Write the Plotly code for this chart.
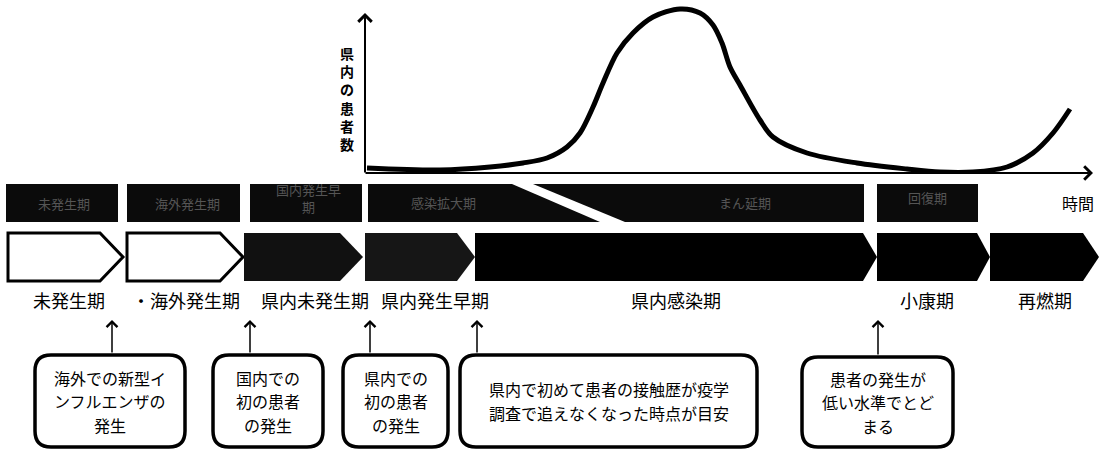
import plotly.graph_objects as go

W, H = 1099, 451
FONT = "Noto Sans CJK JP"

# ---- data: epidemic curve (time units, patient count) ----
time_pts = [0.2, 7.5, 12.5, 15.8, 18.2, 20.2, 21.5, 22.8, 23.8, 25.2, 26.8, 28.8,
            31.5, 33.5, 34.8, 35.7, 36.5, 37.5, 39.5, 40.8, 44.2, 49.2, 54.2,
            57.5, 60.8, 64.2, 66.8, 68.8, 70.5]
patients = [5, 3, 6, 10, 15, 26, 40, 66, 90, 120, 140, 156,
            164, 160, 148, 130, 106, 88, 53, 36, 20, 10, 4,
            1, 1, 6, 20, 40, 64]

# ---- text ----
upper_phases = ["未発生期", "海外発生期", "国内発生早<br>期", "感染拡大期", "まん延期", "回復期"]
lower_phases = ["未発生期", "・海外発生期", "県内未発生期", "県内発生早期", "県内感染期", "小康期", "再燃期"]
callouts = ["海外での新型イ<br>ンフルエンザの<br>発生",
            "国内での<br>初の患者<br>の発生",
            "県内での<br>初の患者<br>の発生",
            "県内で初めて患者の接触歴が疫学<br>調査で追えなくなった時点が目安",
            "患者の発生が<br>低い水準でとど<br>まる"]
y_title = "県内の患者数"
x_title = "時間"

# ---- layout geometry (pixels) ----
chev_x0 = [8, 127, 244, 365, 475, 877, 990]
chev_x1 = [100, 220, 340, 457, 863, 977, 1083]
chev_tip = [123, 243, 363, 475, 877, 990, 1099]
chev_fill = ["white", "white", "#111", "#161616", "black", "black", "black"]
chev_top, chev_bot = 233, 281

up_boxes = [  # polygons
    [(6, 184), (118, 184), (118, 222), (6, 222)],
    [(127, 184), (240, 184), (240, 222), (127, 222)],
    [(250, 184), (362, 184), (362, 222), (250, 222)],
    [(368, 184), (512, 184), (600, 222), (368, 222)],
    [(533, 184), (864, 184), (864, 222), (625, 222)],
    [(877, 184), (978, 184), (978, 222), (877, 222)],
]
up_text_xy = [(64, 203), (187, 203), (308, 198), (443, 202), (745, 202), (927, 197)]
low_text_x = [69, 186, 315, 435, 676, 927, 1045]
low_text_y = 300
call_boxes = [(35, 355, 185, 447), (213, 355, 323, 447), (343, 355, 448, 447),
              (460, 355, 757, 447), (802, 357, 953, 447)]
call_arrow_x = [112, 250, 370, 477, 878]
call_line_gap = 23.5

# plot area of the curve in pixels
px0, px1, py0, py1 = 365, 1093, 173, 13

fig = go.Figure()

# epidemic curve on its own axes
fig.add_trace(go.Scatter(x=time_pts, y=patients, mode="lines",
                         line=dict(color="black", width=5, shape="spline", smoothing=0.9),
                         xaxis="x2", yaxis="y2", hoverinfo="skip", showlegend=False))

shapes = []
annotations = []

def poly(pts):
    return "M " + " L ".join(f"{x},{y}" for x, y in pts) + " Z"

# upper dark boxes
for pts in up_boxes:
    shapes.append(dict(type="path", path=poly(pts), xref="x", yref="y",
                       fillcolor="#0b0b0b", line=dict(width=0), layer="below"))
for (tx, ty), t in zip(up_text_xy, upper_phases):
    annotations.append(dict(x=tx, y=ty, xref="x", yref="y", text=t, showarrow=False,
                            font=dict(family=FONT, size=13, color="#555555")))

# chevrons
ym = (chev_top + chev_bot) / 2
for i in range(len(chev_x0)):
    x0, x1, xt = chev_x0[i], chev_x1[i], chev_tip[i]
    pts = [(x0, chev_top), (x1, chev_top), (xt, ym), (x1, chev_bot), (x0, chev_bot)]
    outline = dict(color="black", width=3) if chev_fill[i] == "white" else dict(width=0)
    shapes.append(dict(type="path", path=poly(pts), xref="x", yref="y",
                       fillcolor=chev_fill[i], line=outline, layer="below"))

# lower phase labels
for x, t in zip(low_text_x, lower_phases):
    annotations.append(dict(x=x, y=low_text_y, xref="x", yref="y", text=t, showarrow=False,
                            font=dict(family=FONT, size=18, color="black")))

# callout boxes
def rrect(x0, y0, x1, y1, r=16):
    return (f"M {x0+r},{y0} L {x1-r},{y0} Q {x1},{y0} {x1},{y0+r} "
            f"L {x1},{y1-r} Q {x1},{y1} {x1-r},{y1} L {x0+r},{y1} "
            f"Q {x0},{y1} {x0},{y1-r} L {x0},{y0+r} Q {x0},{y0} {x0+r},{y0} Z")

for (x0, y0, x1, y1), t in zip(call_boxes, callouts):
    shapes.append(dict(type="path", path=rrect(x0, y0, x1, y1), xref="x", yref="y",
                       fillcolor="white", line=dict(color="black", width=3.5)))
    lines = t.split("<br>")
    cy = (y0 + y1) / 2
    for j, ln in enumerate(lines):
        yy = cy + (j - (len(lines) - 1) / 2) * call_line_gap
        annotations.append(dict(x=(x0 + x1) / 2, y=yy, xref="x", yref="y",
                                text=ln, showarrow=False,
                                font=dict(family=FONT, size=16, color="black")))

for ax_x, (x0, y0, x1, y1) in zip(call_arrow_x, call_boxes):
    annotations.append(dict(x=ax_x, y=320, ax=ax_x, ay=y0 - 1, xref="x", yref="y",
                            axref="x", ayref="y", text="", showarrow=True,
                            arrowhead=4, arrowwidth=1.5, arrowsize=1.4, arrowcolor="black"))

# curve axes with arrows
annotations.append(dict(x=px0, y=py1, ax=px0, ay=py0 + 1, xref="x", yref="y", axref="x", ayref="y",
                        text="", showarrow=True, arrowhead=4, arrowwidth=2, arrowsize=1.3,
                        arrowcolor="black"))
annotations.append(dict(x=px1, y=py0, ax=px0 - 1, ay=py0, xref="x", yref="y", axref="x", ayref="y",
                        text="", showarrow=True, arrowhead=4, arrowwidth=2, arrowsize=1.3,
                        arrowcolor="black"))

# axis titles (vertical stacked characters in one text)
annotations.append(dict(x=347, y=98, xref="x", yref="y",
                        text="<b>" + "<br>".join(list(y_title)) + "</b>",
                        showarrow=False, align="center",
                        font=dict(family=FONT, size=14, color="black")))
annotations.append(dict(x=1078, y=203, xref="x", yref="y", text=x_title, showarrow=False,
                        font=dict(family=FONT, size=16, color="black")))

fig.update_layout(
    width=W, height=H, margin=dict(l=0, r=0, t=0, b=0),
    paper_bgcolor="white", plot_bgcolor="white",
    xaxis=dict(range=[0, W], visible=False, domain=[0, 1], fixedrange=True),
    yaxis=dict(range=[H, 0], visible=False, domain=[0, 1], fixedrange=True),
    xaxis2=dict(range=[0, (px1 - px0) / 10], domain=[px0 / W, px1 / W], visible=False,
                anchor="y2"),
    yaxis2=dict(range=[0, py0], domain=[1 - py0 / H, 1], visible=False,
                anchor="x2"),
    shapes=shapes, annotations=annotations, showlegend=False,
)

fig.write_html("out.html", config={"displayModeBar": False},
               post_script="document.body.style.margin='0';")
